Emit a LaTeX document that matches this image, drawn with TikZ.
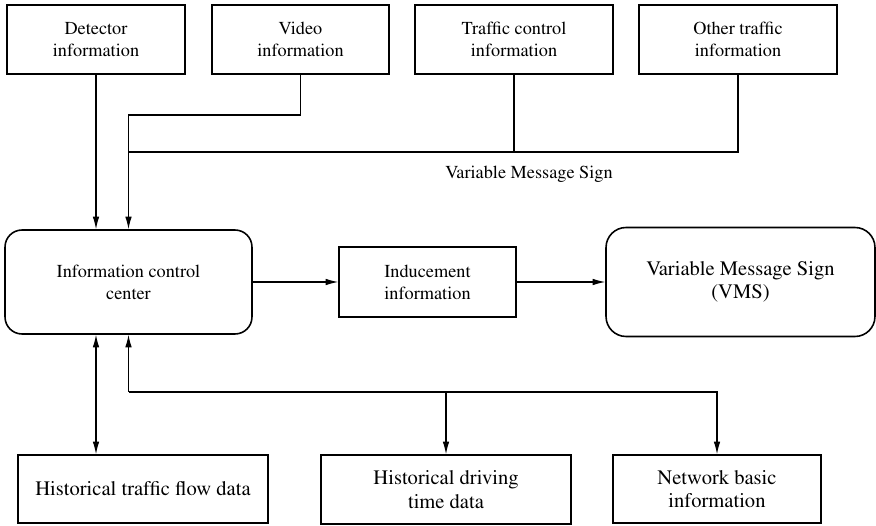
\documentclass[tikz,border=0pt]{standalone}
\usepackage[T1]{fontenc}
\usepackage{times}
\usetikzlibrary{arrows.meta,positioning}
\tikzset{
  infobox/.style = {draw, line width=0.9pt, rectangle, align=center,
                    minimum height=1.38cm, inner sep=2pt,
                    font=\fontsize{10.4pt}{12.5pt}\selectfont},
  databox/.style = {infobox, font=\fontsize{11.7pt}{13.3pt}\selectfont},
  hubbox/.style  = {infobox, rounded corners=0.34cm},
  link/.style    = {line width=0.6pt},
  sig/.style     = {link, -{Latex[length=2.5mm,width=1.3mm]}},
  sigboth/.style = {link, {Latex[length=2.5mm,width=1.3mm]}-{Latex[length=2.5mm,width=1.3mm]}},
}

\begin{document}
\begin{tikzpicture}[x=0.02cm,y=-0.02cm]
\useasboundingbox (0,0) rectangle (876,526);
% sources along the top
\node[infobox,minimum width=3.56cm] (det) at (96,39.5) {Detector\\information};
\node[infobox,minimum width=3.54cm] (vid) at (300.5,39.5) {Video\\information};
\node[infobox,minimum width=3.96cm] (tci) at (514,39.5) {Traffic control\\information};
\node[infobox,minimum width=3.96cm] (oti) at (738,39.5) {Other traffic\\information};
% middle row
\node[hubbox,minimum width=4.94cm,minimum height=2.08cm] (icc) at (128.5,282) {Information control\\center};
\node[infobox,minimum width=3.54cm,minimum height=1.40cm] (ind) at (427.5,282) {Inducement\\information};
\node[hubbox,databox,rounded corners=0.4cm,minimum width=5.38cm,minimum height=2.18cm] (vms) at (740.5,282) {Variable Message Sign\\(VMS)};
% stored data along the bottom
\node[databox,minimum width=5.0cm,minimum height=1.36cm] (hfd) at (143,489) {Historical traffic flow data};
\node[databox,minimum width=5.0cm,minimum height=1.38cm] (hdt) at (446,489.5) {Historical driving\\time data};
\node[databox,minimum width=4.16cm,minimum height=1.36cm] (nbi) at (717,489) {Network basic\\information};
\node[font=\fontsize{10.4pt}{12.5pt}\selectfont] (vlab) at (529,174) {Variable Message Sign};

\coordinate (vbend) at (128.5,115);
\coordinate (tbus) at (128.5,152);
\coordinate (bbus) at (128.5,392);

% inputs into the control center
\draw[sig] (det.south) -- (det.south |- icc.north);
\draw[sig] (vid.south) |- (vbend) -- (icc.north);
\draw[link] (tbus) -| (oti.south);
\draw[link] (tci.south) -- (tci.south |- tbus);
% outputs
\draw[sig] (icc) -- (ind);
\draw[sig] (ind) -- (vms);
% data exchange below
\draw[sigboth] (icc.south -| det.south) -- (hfd.north -| det.south);
\draw[sig] (bbus) -- (icc.south);
\draw[sig] (bbus) -| (nbi.north);
\draw[sig] (hdt.north |- bbus) -- (hdt.north);
\end{tikzpicture}
\end{document}
